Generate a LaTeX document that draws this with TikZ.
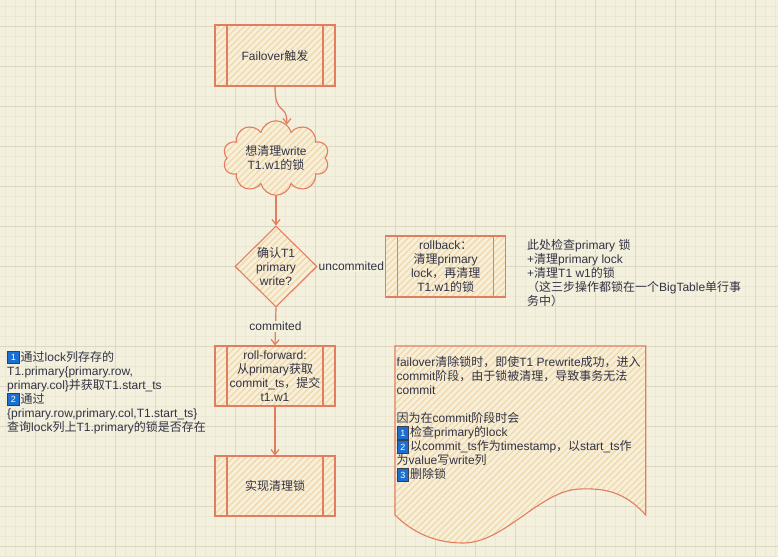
\documentclass[tikz,border=0pt]{standalone}
\usepackage{fontspec}
\setmainfont{Liberation Sans}
\newfontfamily\cjkfont{Noto Sans CJK SC}
\newfontfamily\latinfont{Liberation Sans}
% switch to the CJK family for Chinese characters and full-width punctuation
\XeTeXinterchartokenstate=1
\newXeTeXintercharclass\CJKclass
\count255="3000
\loop\ifnum\count255<"3040 \XeTeXcharclass\count255=\CJKclass \advance\count255 by 1 \repeat
\count255="4E00
\loop\ifnum\count255<"A000 \XeTeXcharclass\count255=\CJKclass \advance\count255 by 1 \repeat
\count255="FF00
\loop\ifnum\count255<"FFF0 \XeTeXcharclass\count255=\CJKclass \advance\count255 by 1 \repeat
\XeTeXinterchartoks 0 \CJKclass = {\cjkfont}
\XeTeXinterchartoks 4095 \CJKclass = {\cjkfont}
\XeTeXinterchartoks \CJKclass 0 = {\latinfont}
\XeTeXinterchartoks \CJKclass 4095 = {\latinfont}
\usepackage{tikz}
\usetikzlibrary{arrows.meta,positioning,shapes.geometric,shapes.symbols,patterns.meta}
\definecolor{SketchPaper}{HTML}{F3F0DD}
\definecolor{SketchGridMajor}{HTML}{DCD8C4}
\definecolor{SketchGridMinor}{HTML}{EBE7D3}
\definecolor{SketchStroke}{HTML}{E27D60}
\definecolor{SketchFill}{HTML}{F6EFDA}
\definecolor{SketchHatch}{HTML}{F2D8AA}
\definecolor{SketchInk}{HTML}{333344}
\definecolor{BadgeBlue}{HTML}{1A6FD0}
\definecolor{BadgeRim}{HTML}{3A3F4A}
\newcommand\sketchfont{\fontsize{12}{14}\selectfont}
\newcommand\numtag[1]{{\setlength\fboxsep{2.6pt}\setlength\fboxrule{0.9pt}%
  \raisebox{0.8pt}[0pt][0pt]{\fcolorbox{BadgeRim}{BadgeBlue}{\makebox[5.5pt]{\color{white}\fontsize{9}{9}\selectfont #1}}}}\hspace{1pt}}
\tikzset{
  flow/.style={-{Straight Barb[length=5pt,width=8pt]}, line width=1.2pt, draw=SketchStroke},
  hatched/.style={preaction={fill=SketchFill}, pattern={Lines[angle=45,distance=4.5pt,line width=1.3pt]},
                  pattern color=SketchHatch},
  shape base/.style={hatched, draw=SketchStroke, line width=1.1pt, align=center, font=\sketchfont,
                     text=SketchInk, inner sep=1pt},
  process/.style={shape base, rectangle, minimum width=120pt, minimum height=61pt,
    path picture={\draw[draw=SketchStroke, line width=1.1pt]
      ([xshift=12pt]path picture bounding box.north west) -- ([xshift=12pt]path picture bounding box.south west)
      ([xshift=-12pt]path picture bounding box.north east) -- ([xshift=-12pt]path picture bounding box.south east);}},
  decision/.style={shape base, diamond, aspect=1, inner sep=0pt, minimum width=82pt, minimum height=81pt},
  thought/.style={shape base, cloud, cloud puffs=10, aspect=1.6, minimum width=106pt, minimum height=70pt},
  tag/.style={fill=SketchPaper, inner sep=1pt, font=\sketchfont, text=SketchInk},
  note/.style={anchor=north west, align=left, inner sep=0pt, font=\sketchfont, text=SketchInk},
}
\begin{document}
\begin{tikzpicture}[x=1pt,y=-1pt]
  \useasboundingbox (0,0) rectangle (778,557);
  % paper and grid
  \fill[SketchPaper] (0,0) rectangle (778,557);
  \foreach \gx in {5.7,15.7,...,775.7} \draw[SketchGridMinor, line width=0.8pt] (\gx,0) -- (\gx,557);
  \foreach \gy in {6.7,16.7,...,556.7} \draw[SketchGridMinor, line width=0.8pt] (0,\gy) -- (778,\gy);
  \foreach \gx in {35.7,75.7,...,755.7} \draw[SketchGridMajor, line width=0.8pt] (\gx,0) -- (\gx,557);
  \foreach \gy in {26.7,66.7,...,546.7} \draw[SketchGridMajor, line width=0.8pt] (0,\gy) -- (778,\gy);

  % flow
  \node[process] (failover) at (275,55.5) {Failover触发};
  \node[thought] (wish) at (276,158) {想清理write\\T1.w1的锁};
  \node[decision] (confirm) at (276,266.5) {确认T1\\primary\\write?};
  \node[process] (rollback) at (445.7,266.5) {rollback：\\清理primary\\lock，再清理\\T1.w1的锁};
  \node[process, minimum height=60pt] (forward) at (275,376) {roll-forward:\\从primary获取\\commit\_ts，提交\\t1.w1};
  \node[process, minimum height=60pt] (cleanup) at (275,486) {实现清理锁};

  \draw[flow] (failover.south) .. controls +(0,30) and +(0,-22) .. (wish.72);
  \draw[flow] (wish.south) -- (confirm.north);
  \draw[flow] (confirm.east) -- node[tag] {uncommited} (rollback.west);
  \draw[flow] (confirm.south) -- node[tag] {commited} (forward.north);
  \draw[flow] (forward.south) -- (cleanup.north);

  % notes
  \node[note] (lookup) at (7,351) {\numtag{1}通过lock列存存的\\T1.primary\{primary.row,\\primary.col\}并获取T1.start\_ts\\
    \numtag{2}通过\\\{primary.row,primary.col,T1.start\_ts\}\\查询lock列上T1.primary的锁是否存在};
  \node[note] (check) at (527,239) {此处检查primary 锁\\+清理primary lock\\+清理T1 w1的锁\\（这三步操作都锁在一个BigTable单行事\\务中）};

  % document sheet
  \path[hatched, draw=SketchStroke, line width=1.1pt]
    (395,346) -- (645.7,346) -- (645.7,515)
    .. controls (625,492) and (605,488) .. (580,489)
    .. controls (540,490) and (505,543) .. (463,543)
    .. controls (432,543) and (410,530) .. (395,515) -- cycle;
  \node[note] (reason) at (396.5,356.5) {failover清除锁时，即使T1 Prewrite成功，进入\\commit阶段，由于锁被清理，导致事务无法\\commit\\[14pt]
    因为在commit阶段时会\\\numtag{1}检查primary的lock\\\numtag{2}以commit\_ts作为timestamp，以start\_ts作\\为value写write列\\\numtag{3}删除锁};
\end{tikzpicture}
\end{document}
